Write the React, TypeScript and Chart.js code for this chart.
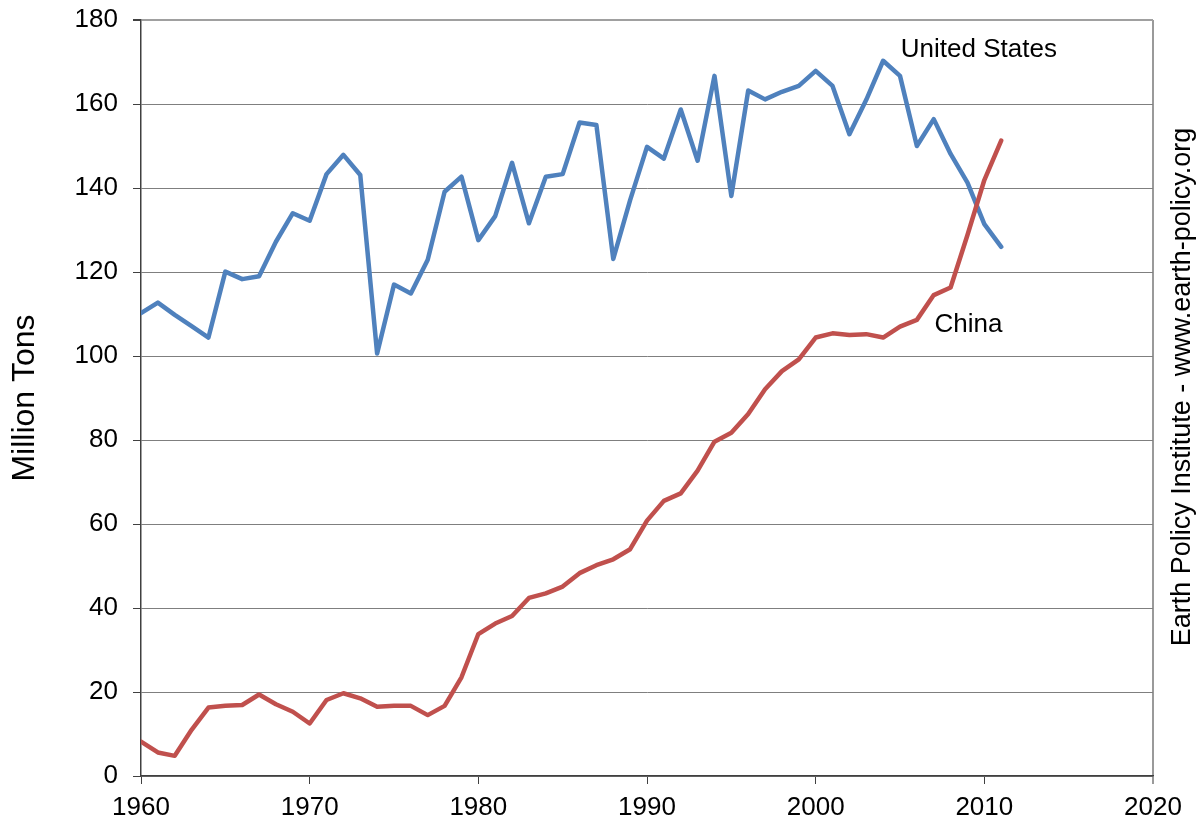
import React, { useEffect, useRef } from "react";
import { Chart, registerables } from "chart.js";

Chart.register(...registerables);

const years = [
  1960, 1961, 1962, 1963, 1964, 1965, 1966, 1967, 1968, 1969,
  1970, 1971, 1972, 1973, 1974, 1975, 1976, 1977, 1978, 1979,
  1980, 1981, 1982, 1983, 1984, 1985, 1986, 1987, 1988, 1989,
  1990, 1991, 1992, 1993, 1994, 1995, 1996, 1997, 1998, 1999,
  2000, 2001, 2002, 2003, 2004, 2005, 2006, 2007, 2008, 2009,
  2010, 2011,
];

const unitedStates = [
  110.2, 112.7, 109.8, 107.1, 104.4, 120.1, 118.3, 119.0, 127.2, 134.0,
  132.2, 143.3, 147.9, 143.1, 100.6, 117.0, 114.9, 122.9, 139.1, 142.7,
  127.6, 133.3, 146.0, 131.6, 142.7, 143.3, 155.6, 155.0, 123.1, 137.1,
  149.8, 147.0, 158.7, 146.5, 166.7, 138.1, 163.2, 161.1, 162.9, 164.3,
  167.9, 164.3, 152.8, 161.0, 170.3, 166.7, 150.0, 156.4, 148.1, 141.3,
  131.4, 126.0,
];

const china = [
  8.2, 5.6, 4.8, 11.0, 16.3, 16.7, 16.9, 19.4, 17.1, 15.3,
  12.5, 18.1, 19.7, 18.5, 16.5, 16.7, 16.7, 14.5, 16.7, 23.5,
  33.8, 36.3, 38.1, 42.4, 43.5, 45.1, 48.3, 50.2, 51.6, 54.0,
  60.8, 65.5, 67.3, 72.7, 79.6, 81.7, 86.2, 92.1, 96.4, 99.2,
  104.4, 105.4, 105.0, 105.2, 104.4, 107.0, 108.6, 114.5, 116.3, 128.8,
  141.9, 151.3,
];

const seriesLabels = ["United States", "China"];
const yAxisTitle = "Million Tons";
const sourceText = "Earth Policy Institute - www.earth-policy.org";
const xMin = 1960;
const xMax = 2020;
const xStep = 10;
const yMin = 0;
const yMax = 180;
const yStep = 20;

// label anchors in data coordinates [year, value]
const usLabelAnchor = [2005.05, 172.9];
const chinaLabelAnchor = [2007.05, 107.4];

const FONT = '"Liberation Sans", Arial, Helvetica, sans-serif';

const annotationPlugin = {
  id: "annotations",
  afterDatasetsDraw(chart: any) {
    const { ctx, scales } = chart;
    const x = scales.x;
    const y = scales.y;
    ctx.save();
    ctx.fillStyle = "#000";
    ctx.font = `26px ${FONT}`;
    ctx.textAlign = "left";
    ctx.textBaseline = "middle";
    ctx.fillText(seriesLabels[0], x.getPixelForValue(usLabelAnchor[0]), y.getPixelForValue(usLabelAnchor[1]));
    ctx.fillText(seriesLabels[1], x.getPixelForValue(chinaLabelAnchor[0]), y.getPixelForValue(chinaLabelAnchor[1]));
    ctx.restore();
  },
  afterDraw(chart: any) {
    const { ctx, chartArea } = chart;
    ctx.save();
    ctx.fillStyle = "#000";
    ctx.font = `27px ${FONT}`;
    ctx.textAlign = "center";
    ctx.textBaseline = "alphabetic";
    ctx.translate(chartArea.right + 37, (chartArea.top + chartArea.bottom) / 2 - 11);
    ctx.rotate(-Math.PI / 2);
    ctx.fillText(sourceText, 0, 0);
    ctx.restore();
  },
};

export default function App() {
  const canvasRef = useRef<HTMLCanvasElement | null>(null);

  useEffect(() => {
    const canvas = canvasRef.current;
    if (!canvas) return;
    const chart = new Chart(canvas, {
      type: "line",
      data: {
        datasets: [
          {
            label: seriesLabels[0],
            data: years.map((yr, i) => ({ x: yr, y: unitedStates[i] })),
            borderColor: "#4F81BD",
            backgroundColor: "#4F81BD",
            borderWidth: 4.5,
            pointRadius: 0,
            tension: 0,
            borderJoinStyle: "round",
            borderCapStyle: "round",
            order: 1,
          },
          {
            label: seriesLabels[1],
            data: years.map((yr, i) => ({ x: yr, y: china[i] })),
            borderColor: "#C0504D",
            backgroundColor: "#C0504D",
            borderWidth: 4.5,
            pointRadius: 0,
            tension: 0,
            borderJoinStyle: "round",
            borderCapStyle: "round",
            order: 0,
          },
        ],
      },
      options: {
        responsive: false,
        animation: false,
        devicePixelRatio: 1,
        layout: { padding: { left: 0, top: 20, right: 45, bottom: 0 } },
        plugins: {
          legend: { display: false },
          tooltip: { enabled: false },
          title: { display: false },
        },
        scales: {
          x: {
            type: "linear",
            min: xMin,
            max: xMax,
            afterFit: (scale: any) => {
              scale.height = 49;
              scale.paddingLeft = 0;
              scale.paddingRight = 0;
            },
            ticks: {
              stepSize: xStep,
              color: "#000",
              padding: 8,
              font: { family: FONT, size: 26 },
              callback: (v: any) => String(v),
              maxRotation: 0,
            },
            grid: {
              drawOnChartArea: true,
              color: (c: any) => (c.tick && c.tick.value === xMax ? "#9a9a9a" : "rgba(0,0,0,0)"),
              lineWidth: (c: any) => (c.tick && c.tick.value === xMax ? 2 : 1),
              tickColor: (c: any) => (c.tick && c.tick.value === xMax ? "#9a9a9a" : "#404040"),
              tickLength: 8,
            },
            border: { display: true, color: "#404040", width: 1.5 },
          },
          y: {
            type: "linear",
            min: yMin,
            max: yMax,
            afterFit: (scale: any) => {
              scale.width = 141;
              scale.paddingTop = 0;
              scale.paddingBottom = 0;
            },
            ticks: {
              stepSize: yStep,
              color: "#000",
              padding: 15,
              font: { family: FONT, size: 26 },
            },
            grid: {
              color: (c: any) => (c.tick && c.tick.value === yMax ? "#a0a0a0" : "#7f7f7f"),
              lineWidth: (c: any) => (c.tick && c.tick.value === yMax ? 2 : 1),
              tickColor: "#404040",
              tickLength: 8,
            },
            border: { display: true, color: "#404040", width: 1.5 },
            title: {
              display: true,
              text: yAxisTitle,
              color: "#000",
              font: { family: FONT, size: 32 },
              padding: { top: 6, bottom: 0 },
            },
          },
        },
      },
      plugins: [annotationPlugin],
    });
    return () => chart.destroy();
  }, []);

  return (
    <div style={{ position: "absolute", left: 0, top: 0, width: 1198, height: 825, background: "#fff" }}>
      <canvas ref={canvasRef} width={1198} height={825} style={{ display: "block" }} />
    </div>
  );
}
